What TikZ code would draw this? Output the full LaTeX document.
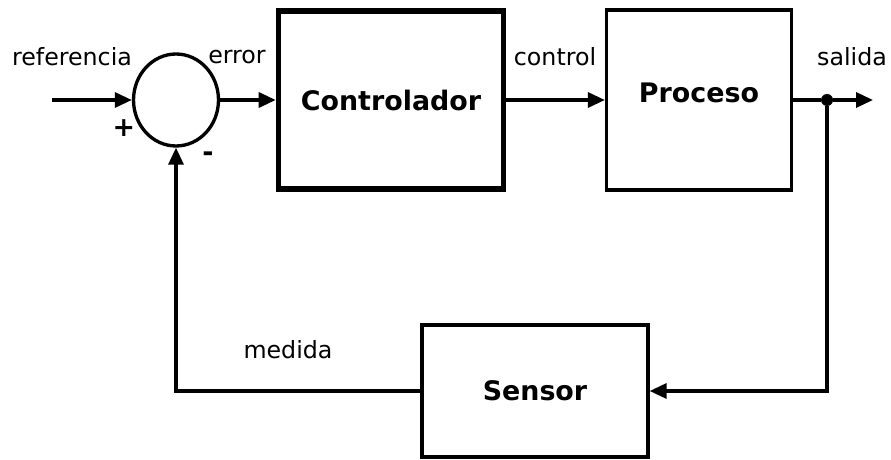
\documentclass[tikz,border=0pt]{standalone}
\usepackage{fontspec}
\setmainfont{DejaVu Sans}
\usepackage{tikz}
\usetikzlibrary{arrows.meta}
\usetikzlibrary{shapes.geometric}

\begin{document}
\begin{tikzpicture}[x=0.02cm, y=-0.02cm,
		block/.style={rectangle, draw, line width=1.9pt, font=\fontsize{15.3}{18}\selectfont\bfseries},
		sig/.style={font=\fontsize{13.5}{16}\selectfont},
		wire/.style={line width=1.9pt, -{Triangle[length=3.4mm, width=3mm]}},
		line/.style={line width=1.9pt}]
		\useasboundingbox (0,0) rectangle (891,459);

		% Summing junction
		\node (SUM) at (176,100) [ellipse, draw, line width=1.9pt, minimum width=1.7cm, minimum height=1.84cm] {};
		\node (SUM_plus) at (124,128) [font=\fontsize{15.3}{18}\selectfont\bfseries] {+};
		\node (SUM_minus) at (208,157) [font=\fontsize{15.3}{18}\selectfont\bfseries] {-};

		% Forward path
		\node (CTRL) at (391,100) [block, line width=3.2pt, minimum width=4.5cm, minimum height=3.55cm] {Controlador};
		\node (PROC) at (699,100) [block, minimum width=3.7cm, minimum height=3.6cm] {};
		\node (PROC_label) at (699,93) [font=\fontsize{15.3}{18}\selectfont\bfseries] {Proceso};
		\node (SENS) at (535,391) [block, minimum width=4.52cm, minimum height=2.64cm] {Sensor};

		\coordinate (IN) at (52,100);
		\coordinate (OUT) at (873,100);
		\node (BRANCH) at (827,100) [circle, fill, inner sep=0pt, minimum size=0.24cm] {};
		\coordinate (FB_R) at (827,391);
		\coordinate (FB_L) at (176,391);

		\draw [wire] (IN) -- (SUM);
		\draw [wire] (SUM) -- (CTRL);
		\draw [wire] (CTRL) -- (PROC);
		\draw [line] (PROC) -- (BRANCH);
		\draw [wire] (BRANCH) -- (OUT);

		% Feedback path
		\draw [wire] (BRANCH) -- (FB_R) -- (SENS);
		\draw [wire] (SENS) -- (FB_L) -- (SUM);

		% Signal labels
		\node[sig] (REF_label) at (72,57) {referencia};
		\node[sig] (ERR_label) at (237,57) {error};
		\node[sig] (CTRL_label) at (555,57) {control};
		\node[sig] (OUT_label) at (852,57) {salida};
		\node[sig] (MED_label) at (288,350) {medida};
	\end{tikzpicture}
\end{document}
